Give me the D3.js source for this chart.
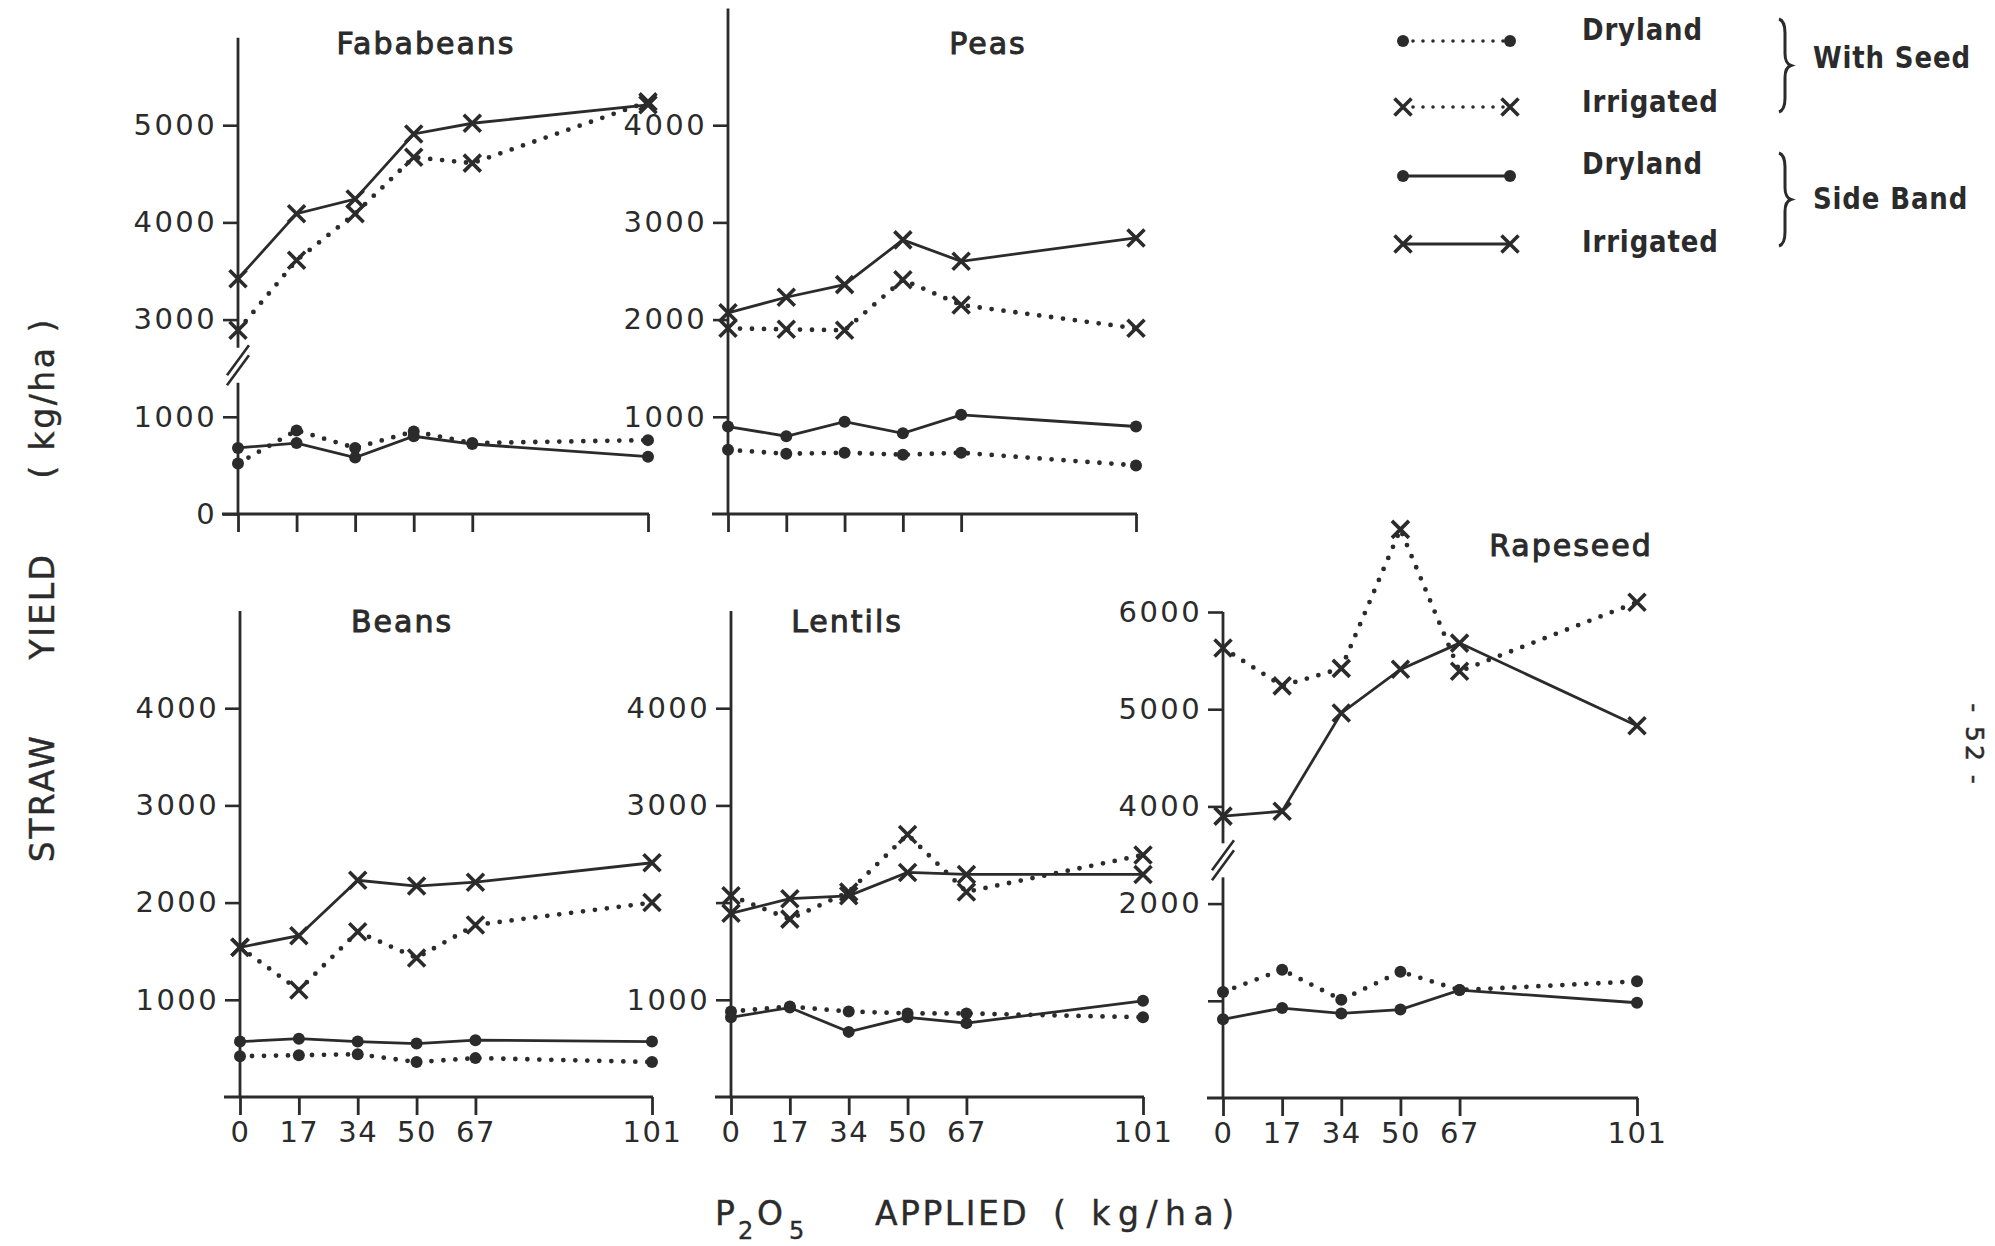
<!DOCTYPE html>
<html>
<head>
<meta charset="utf-8">
<script src="https://cdn.jsdelivr.net/npm/d3@7"></script>
<style>
  body { margin: 0; background: #fff; }
  svg { display: block; }
  text { fill: #2b2b2b; font-family: "DejaVu Sans", sans-serif; }
</style>
</head>
<body>
<script>
// P2O5 rates (kg/ha)
const rates = [0, 17, 34, 50, 67, 101];
// tick slots: 0..67 evenly spaced, 101 drawn three slots further
const slots = [0, 1, 2, 3, 4, 7];

// straw yield, kg/ha  (seed = with seed, band = side band)
const fabaSeedDry = [520, 860, 680, 850, 730, 760];
const fabaSeedIrr = [2890, 3610, 4090, 4670, 4610, 5240];
const fabaBandDry = [680, 730, 580, 800, 720, 590];
const fabaBandIrr = [3420, 4090, 4240, 4910, 5020, 5210];

const peasSeedDry = [660, 620, 630, 610, 630, 500];
const peasSeedIrr = [1910, 1900, 1890, 2410, 2150, 1910];
const peasBandDry = [900, 800, 950, 830, 1020, 900];
const peasBandIrr = [2070, 2230, 2360, 2820, 2600, 2840];

const beanSeedDry = [420, 430, 440, 360, 400, 360];
const beanSeedIrr = [1540, 1100, 1700, 1430, 1770, 2000];
const beanBandDry = [570, 600, 570, 550, 585, 570];
const beanBandIrr = [1540, 1660, 2230, 2170, 2210, 2410];

const lentSeedDry = [880, 930, 880, 860, 860, 820];
const lentSeedIrr = [2070, 1830, 2110, 2700, 2110, 2490];
const lentBandDry = [820, 920, 670, 820, 760, 990];
const lentBandIrr = [1890, 2040, 2070, 2310, 2290, 2290];

const rapeSeedDry = [1090, 1320, 1010, 1300, 1110, 1200];
const rapeSeedIrr = [5630, 5240, 5420, 6850, 5390, 6100];
const rapeBandDry = [810, 925, 870, 910, 1110, 980];
const rapeBandIrr = [3900, 3950, 4960, 5410, 5680, 4830];

const legendRows = ["Dryland", "Irrigated", "Dryland", "Irrigated"];
const legendGroups = ["With Seed", "Side Band"];

// series styles in legend order
const styles = [
  {dash: true,  mark: "dot"},
  {dash: true,  mark: "x"},
  {dash: false, mark: "dot"},
  {dash: false, mark: "x"}
];

const panels = [
  {name: "Fababeans", series: [fabaSeedDry, fabaSeedIrr, fabaBandDry, fabaBandIrr],
   x0: 238, x1: 648, y0: 514, top: 5900, gap: [1500, 2500], axisBreak: [1350, 2710],
   ticks: [0, 1000, 3000, 4000, 5000], labels: [0, 1000, 3000, 4000, 5000],
   xLabels: false, title: [426, 54]},
  {name: "Peas", series: [peasSeedDry, peasSeedIrr, peasBandDry, peasBandIrr],
   x0: 728, x1: 1136, y0: 514, top: 5200,
   ticks: [1000, 2000, 3000, 4000], labels: [1000, 2000, 3000, 4000],
   xLabels: false, title: [988, 54]},
  {name: "Beans", series: [beanSeedDry, beanSeedIrr, beanBandDry, beanBandIrr],
   x0: 240, x1: 652, y0: 1097, top: 5000,
   ticks: [1000, 2000, 3000, 4000], labels: [1000, 2000, 3000, 4000],
   xLabels: true, title: [402, 632]},
  {name: "Lentils", series: [lentSeedDry, lentSeedIrr, lentBandDry, lentBandIrr],
   x0: 731, x1: 1143, y0: 1097, top: 5000,
   ticks: [1000, 2000, 3000, 4000], labels: [1000, 3000, 4000],
   xLabels: true, title: [847, 632]},
  {name: "Rapeseed", series: [rapeSeedDry, rapeSeedIrr, rapeBandDry, rapeBandIrr],
   x0: 1223, x1: 1637, y0: 1098, top: 6000, gap: [2500, 3500], axisBreak: [2270, 3620],
   ticks: [1000, 2000, 4000, 5000, 6000], labels: [2000, 4000, 5000, 6000],
   xLabels: true, title: [1571, 556]}
];

const W = 1995, H = 1246;
const K = 0.0972;            // px per kg/ha
const ink = "#2b2b2b";

const svg = d3.select("body").append("svg").attr("width", W).attr("height", H);

function yScaleFor(p) {
  if (!p.gap) return d3.scaleLinear().domain([0, p.top]).range([p.y0, p.y0 - p.top * K]);
  const [a, b] = p.gap;
  return d3.scaleLinear()
    .domain([0, a, b, p.top])
    .range([p.y0, p.y0 - a * K, p.y0 - a * K, p.y0 - (p.top - (b - a)) * K]);
}

function drawMark(g, kind, cx, cy) {
  if (kind === "dot") {
    g.append("circle").attr("cx", cx).attr("cy", cy).attr("r", 6).attr("fill", ink);
  } else {
    const s = 8.5;
    g.append("path")
      .attr("d", `M${cx - s},${cy - s}L${cx + s},${cy + s}M${cx + s},${cy - s}L${cx - s},${cy + s}`)
      .attr("stroke", ink).attr("stroke-width", 3.6).attr("fill", "none");
  }
}

function lineStyle(sel, dash) {
  sel.attr("fill", "none").attr("stroke", ink);
  if (dash) sel.attr("stroke-width", 4.8).attr("stroke-dasharray", "0,12").attr("stroke-linecap", "round");
  else sel.attr("stroke-width", 2.8);
}

panels.forEach(p => {
  const step = (p.x1 - p.x0) / 7;
  const x = d3.scaleLinear().domain(rates).range(slots.map(s => p.x0 + s * step));
  const y = yScaleFor(p);
  const g = svg.append("g");

  // y axis ticks + labels
  const yAxis = d3.axisLeft(y).tickValues(p.ticks).tickSize(15).tickPadding(6)
    .tickFormat(d => p.labels.includes(d) ? d : "");
  const ya = g.append("g").attr("transform", `translate(${p.x0},0)`).call(yAxis);
  ya.select(".domain").remove();
  ya.selectAll(".tick line").attr("stroke", ink).attr("stroke-width", 2.6);
  ya.selectAll(".tick text").attr("font-size", 29).attr("letter-spacing", 2.4)
    .attr("font-family", "DejaVu Sans").attr("fill", "#333");

  // y axis line (broken where needed)
  const segs = p.axisBreak ? [[0, p.axisBreak[0]], [p.axisBreak[1], p.top]] : [[0, p.top]];
  segs.forEach(([a, b]) => {
    g.append("line").attr("x1", p.x0).attr("x2", p.x0)
      .attr("y1", y(a)).attr("y2", y(b))
      .attr("stroke", ink).attr("stroke-width", 2.8);
  });
  if (p.axisBreak) {
    const ym = (y(p.axisBreak[0]) + y(p.axisBreak[1])) / 2;
    [-5, 5].forEach(o => {
      g.append("line")
        .attr("x1", p.x0 - 11).attr("y1", ym + o + 15)
        .attr("x2", p.x0 + 11).attr("y2", ym + o - 15)
        .attr("stroke", ink).attr("stroke-width", 2.6);
    });
  }

  // x axis
  const xAxis = d3.axisBottom(x).tickValues(rates).tickSize(18).tickPadding(6)
    .tickFormat(d => p.xLabels ? d : "");
  const xa = g.append("g").attr("transform", `translate(0,${p.y0})`).call(xAxis);
  xa.select(".domain").remove();
  xa.selectAll(".tick line").attr("stroke", ink).attr("stroke-width", 2.8);
  xa.selectAll(".tick text").attr("font-size", 29).attr("letter-spacing", 1.5)
    .attr("font-family", "DejaVu Sans").attr("fill", "#333");
  g.append("line").attr("x1", p.x0 - 16).attr("x2", p.x1 + 1)
    .attr("y1", p.y0).attr("y2", p.y0)
    .attr("stroke", ink).attr("stroke-width", 2.8);

  // series
  p.series.forEach((vals, i) => {
    const st = styles[i];
    const pts = vals.map((v, j) => [x(rates[j]), y(v)]);
    g.append("path").attr("d", d3.line()(pts)).call(lineStyle, st.dash);
    pts.forEach(([cx, cy]) => drawMark(g, st.mark, cx, cy));
  });

  // title
  g.append("text").attr("x", p.title[0]).attr("y", p.title[1])
    .attr("text-anchor", "middle").attr("font-size", 30).attr("letter-spacing", 2)
    .attr("stroke", "#2b2b2b").attr("stroke-width", 1)
    .text(p.name);
});

// legend
const legRowY = [41, 107, 176, 244];
const legTextY = [40, 112, 174, 252];
const lg = svg.append("g");
legendRows.forEach((lab, i) => {
  const st = styles[i];
  const ly = legRowY[i];
  const ax = 1403, bx = 1510;
  const seg = lg.append("path").attr("d", d3.line()([[ax, ly], [bx, ly]])).call(lineStyle, st.dash);
  if (st.dash) seg.attr("stroke-width", 3.6).attr("stroke-dasharray", "0,10");
  drawMark(lg, st.mark, ax, ly);
  drawMark(lg, st.mark, bx, ly);
  lg.append("text").attr("transform", `translate(1582,${legTextY[i]}) scale(0.84,1)`)
    .attr("font-family", "Liberation Sans").attr("font-weight", "bold")
    .attr("font-size", 31).attr("letter-spacing", 1).text(lab);
});

function brace(x, y1, y2, w) {
  const m = (y1 + y2) / 2;
  return `M${x},${y1} Q${x + w},${y1 + 2} ${x + w},${y1 + 14} L${x + w},${m - 12} ` +
         `Q${x + w},${m - 2} ${x + 2 * w},${m} Q${x + w},${m + 2} ${x + w},${m + 12} ` +
         `L${x + w},${y2 - 14} Q${x + w},${y2 - 2} ${x},${y2}`;
}
const braceSpan = [[19, 112], [153, 246]];
const groupTextY = [68, 209];
legendGroups.forEach((lab, i) => {
  const [a, b] = braceSpan[i];
  lg.append("path").attr("d", brace(1779, a, b, 6))
    .attr("fill", "none").attr("stroke", ink).attr("stroke-width", 3);
  lg.append("text").attr("transform", `translate(1813,${groupTextY[i]}) scale(0.84,1)`)
    .attr("font-family", "Liberation Sans").attr("font-weight", "bold")
    .attr("font-size", 31).attr("letter-spacing", 1).text(lab);
});

// y axis title
const yt = svg.append("g").attr("transform", "translate(54,0)");
[["STRAW", 798], ["YIELD", 606], ["( kg/ha )", 398]].forEach(([t, cy]) => {
  yt.append("text").attr("transform", `translate(0,${cy}) rotate(-90)`)
    .attr("text-anchor", "middle").attr("font-size", 33).attr("letter-spacing", 2.5)
    .attr("stroke", "#2b2b2b").attr("stroke-width", 0.4)
    .text(t);
});

// x axis title
const xt = svg.append("g").attr("stroke", "#2b2b2b").attr("stroke-width", 0.4);
xt.append("text").attr("x", 715).attr("y", 1225).attr("font-size", 33).text("P");
xt.append("text").attr("x", 738).attr("y", 1239).attr("font-size", 24).text("2");
xt.append("text").attr("x", 757).attr("y", 1225).attr("font-size", 33).text("O");
xt.append("text").attr("x", 789).attr("y", 1239).attr("font-size", 24).text("5");
xt.append("text").attr("x", 875).attr("y", 1225).attr("font-size", 33).attr("letter-spacing", 2.5).text("APPLIED");
xt.append("text").attr("x", 1053).attr("y", 1225).attr("font-size", 33).attr("letter-spacing", 7.5).text("( kg/ha)");

// page number
svg.append("text").attr("transform", "translate(1966,745) rotate(90)")
  .attr("text-anchor", "middle").attr("font-size", 25).attr("letter-spacing", 3)
  .attr("stroke", "#2b2b2b").attr("stroke-width", 0.5)
  .text("- 52 -");
</script>
</body>
</html>
